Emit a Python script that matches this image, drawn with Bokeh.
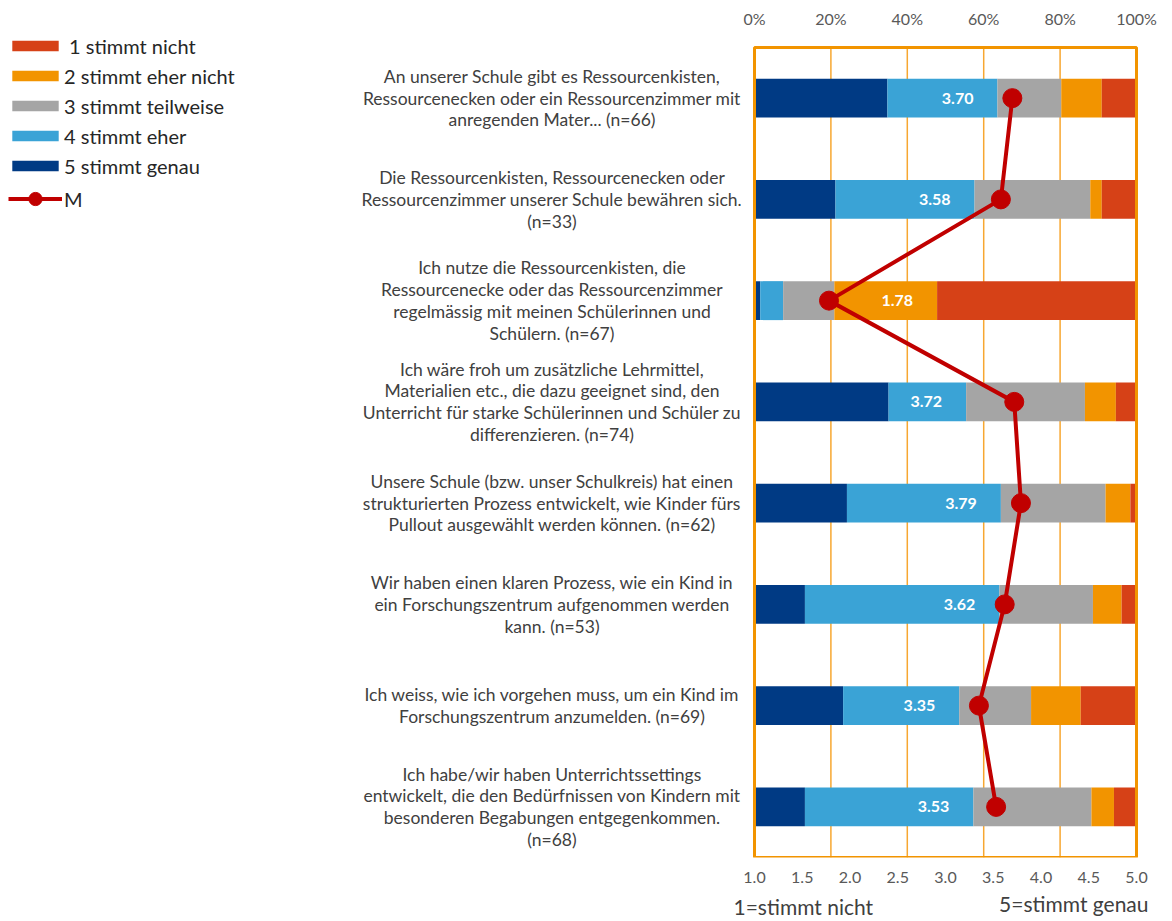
from bokeh.plotting import figure
from bokeh.layouts import column, row
from bokeh.models import (ColumnDataSource, Range1d, LinearAxis,
                          PrintfTickFormatter, Legend, LegendItem, FixedTicker)
from bokeh.core.properties import value
from bokeh.embed import file_html
from bokeh.resources import INLINE

# ---------------- data ----------------
categories = [
    "An unserer Schule gibt es Ressourcenkisten,\nRessourcenecken oder ein Ressourcenzimmer mit\nanregenden Mater... (n=66)",
    "Die Ressourcenkisten, Ressourcenecken oder\nRessourcenzimmer unserer Schule bewähren sich.\n(n=33)",
    "Ich nutze die Ressourcenkisten, die\nRessourcenecke oder das Ressourcenzimmer\nregelmässig mit meinen Schülerinnen und\nSchülern. (n=67)",
    "Ich wäre froh um zusätzliche Lehrmittel,\nMaterialien etc., die dazu geeignet sind, den\nUnterricht für starke Schülerinnen und Schüler zu\ndifferenzieren. (n=74)",
    "Unsere Schule (bzw. unser Schulkreis) hat einen\nstrukturierten Prozess entwickelt, wie Kinder fürs\nPullout ausgewählt werden können. (n=62)",
    "Wir haben einen klaren Prozess, wie ein Kind in\nein Forschungszentrum aufgenommen werden\nkann. (n=53)",
    "Ich weiss, wie ich vorgehen muss, um ein Kind im\nForschungszentrum anzumelden. (n=69)",
    "Ich habe/wir haben Unterrichtssettings\nentwickelt, die den Bedürfnissen von Kindern mit\nbesonderen Begabungen entgegenkommen.\n(n=68)",
]
pct_5 = [34.8, 21.2, 1.5, 35.1, 24.2, 13.2, 23.2, 13.2]   # 5 stimmt genau
pct_4 = [28.8, 36.4, 6.0, 20.3, 40.3, 50.9, 30.4, 44.1]   # 4 stimmt eher
pct_3 = [16.7, 30.3, 13.4, 31.1, 27.4, 24.5, 18.8, 30.9]  # 3 stimmt teilweise
pct_2 = [10.6, 3.0, 26.9, 8.1, 6.5, 7.5, 13.0, 5.9]       # 2 stimmt eher nicht
pct_1 = [9.1, 9.1, 52.2, 5.4, 1.6, 3.8, 14.5, 5.9]        # 1 stimmt nicht
means = [3.70, 3.58, 1.78, 3.72, 3.79, 3.62, 3.35, 3.53]

series_names = ["1 stimmt nicht", "2 stimmt eher nicht", "3 stimmt teilweise",
                "4 stimmt eher", "5 stimmt genau"]
pct_ticks = [0, 20, 40, 60, 80, 100]
mean_ticks = [1.0, 1.5, 2.0, 2.5, 3.0, 3.5, 4.0, 4.5, 5.0]
scale_low = "1=stimmt nicht"
scale_high = "5=stimmt genau"

# ---------------- styling / layout ----------------
C1, C2, C3, C4, C5 = "#D64117", "#F29400", "#A5A5A5", "#3AA3D6", "#003A84"
MEAN_C = "#C00000"
GRID_C = "#F7A731"
BOX_C = "#F29400"
FONT = "Lato"
TXT = "#404040"
AX = "#595959"

W, H = 1172, 921
LEFT_W = 741                 # label/legend panel width
TOP_H = 888                  # upper row height
BX0, BX1 = 754, 1136         # orange box x edges (pixels)
BY0, BY1 = 47, 857           # orange box y edges (pixels)
FX0, FX1 = 752, 1138         # chart frame x edges (pixels)
FY0 = 28                     # chart frame top (pixels); bottom = BY1
NC = len(categories)
PXC = (BY1 - BY0) / NC       # pixels per category
PXP = (BX1 - BX0) / 100.0    # pixels per percent
PXM = (BX1 - BX0) / 4.0      # pixels per mean unit

ys = list(range(1, NC + 1))
lab_x = []
for a5, a4, a3, a2 in zip(pct_5, pct_4, pct_3, pct_2):
    lab_x.append(a5 + a4 if a4 >= a2 else a5 + a4 + a3 + a2)

src = ColumnDataSource(dict(y=ys, p5=pct_5, p4=pct_4, p3=pct_3, p2=pct_2, p1=pct_1,
                            mean=means, labx=lab_x,
                            mtxt=["%.2f" % m for m in means]))

yr = Range1d(NC + 0.5, 0.5 - (BY0 - FY0) / PXC)

# ---------------- chart ----------------
p = figure(width=W - LEFT_W, height=TOP_H, output_backend="svg", toolbar_location=None,
           x_range=Range1d(-(BX0 - FX0) / PXP, 100 + (FX1 - BX1) / PXP), y_range=yr,
           x_axis_location="above", y_axis_location=None,
           min_border_left=FX0 - LEFT_W, min_border_right=W - FX1, min_border_top=FY0,
           min_border_bottom=TOP_H - BY1)
p.extra_x_ranges = {"mean": Range1d(1 - (BX0 - FX0) / PXM, 5 + (FX1 - BX1) / PXM)}
p.grid.grid_line_color = None
p.outline_line_color = None

ax = p.xaxis[0]
ax.ticker = FixedTicker(ticks=pct_ticks)
ax.formatter = PrintfTickFormatter(format="%d%%")
ax.axis_line_color = None
ax.major_tick_line_color = None
ax.minor_tick_line_color = None
ax.major_tick_out = 0
ax.major_label_standoff = 1
ax.major_label_text_font = FONT
ax.major_label_text_font_size = "16px"
ax.major_label_text_color = AX

bx = LinearAxis(x_range_name="mean", ticker=FixedTicker(ticks=mean_ticks),
                formatter=PrintfTickFormatter(format="%.1f"))
bx.axis_line_color = None
bx.major_tick_line_color = None
bx.minor_tick_line_color = None
bx.major_tick_out = 0
bx.major_label_standoff = 14
bx.major_label_text_font = FONT
bx.major_label_text_font_size = "16px"
bx.major_label_text_color = AX
p.add_layout(bx, "below")

# vertical grid lines at the percent ticks, limited to the plot box
inner = pct_ticks[1:-1]
p.segment(x0=inner, x1=inner, y0=[0.5] * len(inner), y1=[NC + 0.5] * len(inner),
          line_color=GRID_C, line_width=1.5)

p.hbar_stack(["p5", "p4", "p3", "p2", "p1"], y="y", height=0.385,
             color=[C5, C4, C3, C2, C1], line_color=None, source=src)

# plot box
p.quad(left=[pct_ticks[0]], right=[pct_ticks[-1]], top=[0.5], bottom=[NC + 0.5],
       fill_color=None, line_color=BOX_C, line_width=3)

p.text(x="labx", y="y", text="mtxt", source=src, x_offset=-24,
       text_align="right", text_baseline="middle", text_color="white",
       text_font=value(FONT), text_font_style="bold", text_font_size="16px")

p.line(x="mean", y="y", source=src, x_range_name="mean", line_color=MEAN_C, line_width=4)
p.scatter(x="mean", y="y", source=src, x_range_name="mean", size=19,
          fill_color=MEAN_C, line_color=MEAN_C)

# ---------------- left panel: legend + category labels ----------------
lp = figure(width=LEFT_W, height=TOP_H, output_backend="svg", toolbar_location=None,
            x_range=Range1d(0, LEFT_W), y_range=yr,
            x_axis_location=None, y_axis_location=None,
            min_border_left=0, min_border_right=0,
            min_border_top=FY0, min_border_bottom=TOP_H - BY1)
lp.grid.grid_line_color = None
lp.outline_line_color = None

lsrc = ColumnDataSource(dict(y=ys, cat=categories))
lp.text(x=551.5, y="y", text="cat", source=lsrc, text_align="center",
        text_baseline="middle", text_font=value(FONT), text_font_size="17.5px",
        text_color=TXT, text_line_height=1.04)

# legend proxies (zero-size, only their styles feed the legend)
swatch_colors = [C1, C2, C3, C4, C5]
legend_items = []
for name, col in zip(series_names, swatch_colors):
    r = lp.hbar(y=[1], left=[0], right=[0], height=0, fill_color=col, line_color=None)
    legend_items.append(LegendItem(label=(" " + name) if name.startswith("1") else name,
                                   renderers=[r]))
leg = Legend(items=legend_items, location=(6, BY1 - 179), glyph_width=58,
             glyph_height=13, label_height=27, spacing=3, label_standoff=0,
             padding=0, margin=0, border_line_color=None, background_fill_alpha=0,
             label_text_font=FONT, label_text_font_size="20px", label_text_color="#262626")
lp.add_layout(leg)

ml = lp.line(x=[0, 0], y=[1, 1], line_color=MEAN_C, line_width=4)
ms = lp.scatter(x=[0], y=[1], size=0, fill_color=MEAN_C, line_color=MEAN_C)
leg2 = Legend(items=[LegendItem(label="M", renderers=[ml, ms])],
              location=(8, BY1 - 215), glyph_width=54, glyph_height=33,
              label_height=33, spacing=0, label_standoff=2, padding=0, margin=0,
              border_line_color=None, background_fill_alpha=0,
              label_text_font=FONT, label_text_font_size="20px", label_text_color="#262626")
lp.add_layout(leg2)

# ---------------- bottom strip: scale anchors ----------------
bp = figure(width=W, height=H - TOP_H, output_backend="svg", toolbar_location=None,
            x_range=Range1d(0, W), y_range=Range1d(H - TOP_H, 0),
            x_axis_location=None, y_axis_location=None,
            min_border=0, min_border_left=0, min_border_right=0,
            min_border_top=0, min_border_bottom=0)
bp.grid.grid_line_color = None
bp.outline_line_color = None
bp.text(x=[733], y=[906 - TOP_H], text=[scale_low], text_align="left",
        text_baseline="middle", text_font=value(FONT), text_font_size="21px",
        text_color=TXT)
bp.text(x=[1148], y=[903 - TOP_H], text=[scale_high], text_align="right",
        text_baseline="middle", text_font=value(FONT), text_font_size="21px",
        text_color=TXT)

layout = column(row(lp, p, spacing=0), bp, spacing=0)
open("out.html", "w").write(file_html(layout, INLINE))
